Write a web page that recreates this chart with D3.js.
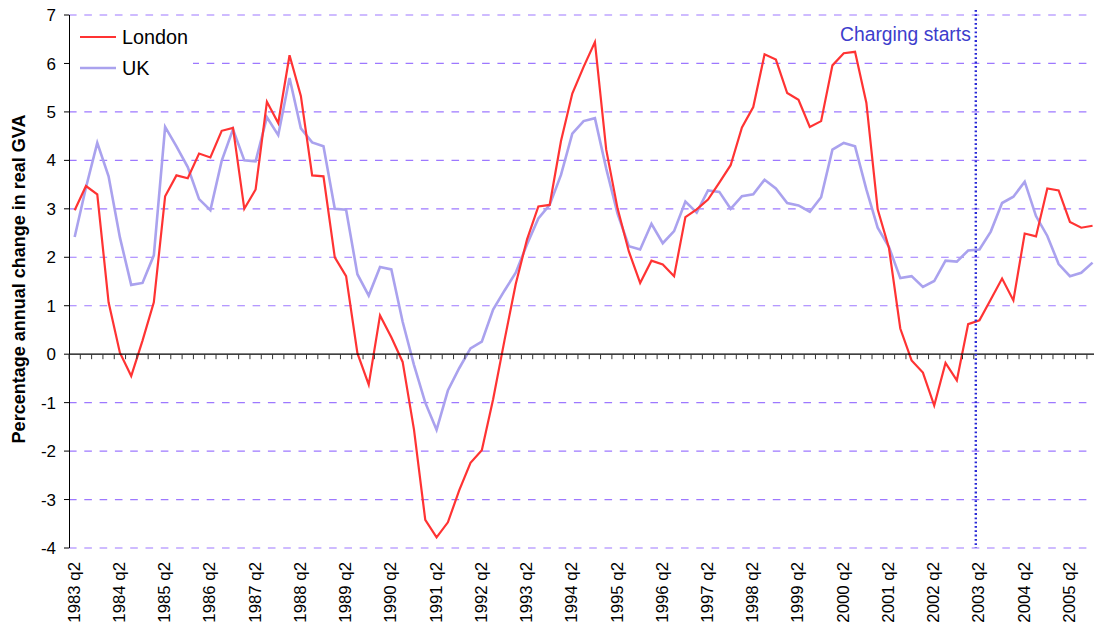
<!DOCTYPE html>
<html><head><meta charset="utf-8">
<script src="https://cdn.jsdelivr.net/npm/d3@7"></script>
<style>html,body{margin:0;padding:0;background:#fff;overflow:hidden}</style>
</head><body>
<svg id="chart" width="1094" height="628"></svg>
<script>
const categories = [
"1983 q2","1983 q3","1983 q4",
"1984 q1","1984 q2","1984 q3","1984 q4",
"1985 q1","1985 q2","1985 q3","1985 q4",
"1986 q1","1986 q2","1986 q3","1986 q4",
"1987 q1","1987 q2","1987 q3","1987 q4",
"1988 q1","1988 q2","1988 q3","1988 q4",
"1989 q1","1989 q2","1989 q3","1989 q4",
"1990 q1","1990 q2","1990 q3","1990 q4",
"1991 q1","1991 q2","1991 q3","1991 q4",
"1992 q1","1992 q2","1992 q3","1992 q4",
"1993 q1","1993 q2","1993 q3","1993 q4",
"1994 q1","1994 q2","1994 q3","1994 q4",
"1995 q1","1995 q2","1995 q3","1995 q4",
"1996 q1","1996 q2","1996 q3","1996 q4",
"1997 q1","1997 q2","1997 q3","1997 q4",
"1998 q1","1998 q2","1998 q3","1998 q4",
"1999 q1","1999 q2","1999 q3","1999 q4",
"2000 q1","2000 q2","2000 q3","2000 q4",
"2001 q1","2001 q2","2001 q3","2001 q4",
"2002 q1","2002 q2","2002 q3","2002 q4",
"2003 q1","2003 q2","2003 q3","2003 q4",
"2004 q1","2004 q2","2004 q3","2004 q4",
"2005 q1","2005 q2","2005 q3","2005 q4"
];
const london = [
2.97,3.47,3.30,1.07,0.03,-0.45,0.28,1.07,3.26,3.69,
3.63,4.14,4.06,4.61,4.67,3.00,3.40,5.21,4.77,6.17,
5.33,3.69,3.67,2.00,1.61,0.02,-0.63,0.80,0.35,-0.16,
-1.55,-3.42,-3.78,-3.47,-2.81,-2.24,-1.98,-0.93,0.28,1.45,
2.37,3.05,3.08,4.40,5.38,5.93,6.44,4.22,3.01,2.12,
1.47,1.93,1.85,1.61,2.83,2.99,3.19,3.54,3.90,4.68,
5.10,6.19,6.08,5.39,5.25,4.69,4.81,5.96,6.21,6.24,
5.19,2.99,2.19,0.53,-0.13,-0.38,-1.06,-0.18,-0.54,0.62,
0.70,1.13,1.56,1.11,2.49,2.43,3.42,3.38,2.73,2.61,
2.65
];
const uk = [
2.42,3.44,4.36,3.67,2.41,1.43,1.47,2.04,4.69,4.29,
3.86,3.20,2.97,3.99,4.64,4.00,3.98,4.89,4.52,5.70,
4.66,4.37,4.29,3.00,2.98,1.65,1.21,1.80,1.75,0.67,
-0.22,-1.00,-1.56,-0.75,-0.29,0.12,0.26,0.92,1.31,1.68,
2.27,2.80,3.08,3.70,4.55,4.81,4.87,3.83,2.90,2.23,
2.16,2.69,2.29,2.54,3.15,2.92,3.38,3.35,3.00,3.26,
3.30,3.60,3.42,3.12,3.07,2.94,3.24,4.22,4.36,4.29,
3.40,2.61,2.21,1.57,1.61,1.39,1.51,1.93,1.91,2.14,
2.16,2.53,3.12,3.25,3.56,2.85,2.44,1.86,1.61,1.68,
1.89
];
const yTicks = [-4,-3,-2,-1,0,1,2,3,4,5,6,7];
const xTickLabels = categories.filter((c, i) => i % 4 === 0);
const seriesNames = ["London", "UK"];
const seriesColors = ["#ff3333", "#aaa2ee"];
const chargingCategory = "2003 q2";
const chargingLabel = "Charging starts";
const yTitle = "Percentage annual change in real GVA";

(function () {
const FONT = "'Liberation Sans', Arial, sans-serif";
const svg = d3.select("#chart");
const pLeft = 69, pTop = 15, pBottom = 548, step = 11.31;
const W = 1094;
const x = d3.scaleBand().domain(categories).range([pLeft, pLeft + step * categories.length]).padding(0);
const y = d3.scaleLinear().domain([-4, 7]).range([pBottom, pTop]);
const cx = c => x(c) + x.bandwidth() / 2;

// gridlines
svg.append("g").selectAll("line").data(yTicks.filter(t => t !== 0)).join("line")
  .attr("x1", pLeft).attr("x2", W + 10)
  .attr("y1", d => y(d)).attr("y2", d => y(d))
  .attr("stroke", "#9d78ff").attr("stroke-width", 1.2)
  .attr("stroke-dasharray", "7.6,7.7");

// legend background
svg.append("rect").attr("x", pLeft + 1).attr("y", 18).attr("width", 123).attr("height", 70).attr("fill", "#fff");

// data lines
const line = d3.line().x((d, i) => cx(categories[i])).y(d => y(d));
svg.append("path").datum(uk).attr("d", line).attr("fill", "none")
  .attr("stroke", seriesColors[1]).attr("stroke-width", 2.6);
svg.append("path").datum(london).attr("d", line).attr("fill", "none")
  .attr("stroke", seriesColors[0]).attr("stroke-width", 2.2);

// y axis
svg.append("line").attr("x1", pLeft + 0.5).attr("x2", pLeft + 0.5).attr("y1", pTop).attr("y2", pBottom)
  .attr("stroke", "#000").attr("stroke-width", 1);
svg.append("g").selectAll("line").data(yTicks).join("line")
  .attr("x1", pLeft - 5).attr("x2", pLeft).attr("y1", d => y(d)).attr("y2", d => y(d))
  .attr("stroke", "#000").attr("stroke-width", 1);
svg.append("g").selectAll("text").data(yTicks).join("text")
  .attr("x", 56).attr("y", d => y(d)).attr("dy", "0.36em")
  .attr("text-anchor", "end").attr("font-family", FONT).attr("font-size", "17px").attr("fill", "#000")
  .text(d => d);

// x axis at zero
const y0 = y(0);
svg.append("line").attr("x1", pLeft).attr("x2", W + 10).attr("y1", y0).attr("y2", y0)
  .attr("stroke", "#000").attr("stroke-width", 1.2);
svg.append("g").selectAll("line").data(d3.range(categories.length + 1)).join("line")
  .attr("x1", i => pLeft + i * x.step()).attr("x2", i => pLeft + i * x.step())
  .attr("y1", y0).attr("y2", y0 + 5)
  .attr("stroke", "#333").attr("stroke-width", 1);
svg.append("g").selectAll("text").data(xTickLabels).join("text")
  .attr("transform", d => `translate(${cx(d) + 5},562) rotate(-90)`)
  .attr("text-anchor", "end").attr("font-family", FONT).attr("font-size", "16.8px").attr("fill", "#000")
  .text(d => d);

// y title
svg.append("text").attr("transform", "translate(25,279) rotate(-90)")
  .attr("text-anchor", "middle").attr("font-family", FONT).attr("font-size", "18px").attr("font-weight", "bold")
  .text(yTitle);

// charging line
const xc = x(chargingCategory) + 2;
svg.append("line").attr("x1", xc).attr("x2", xc).attr("y1", y(7) - 5).attr("y2", pBottom)
  .attr("stroke", "#2a2ad6").attr("stroke-width", 2.4).attr("stroke-dasharray", "1.8,2.5");
svg.append("text").attr("x", xc - 5).attr("y", 40.5).attr("text-anchor", "end")
  .attr("font-family", FONT).attr("font-size", "19.3px").attr("fill", "#3d3dcc").text(chargingLabel);

// legend
const legY = [37, 68];
seriesNames.forEach((n, k) => {
  svg.append("line").attr("x1", 80).attr("x2", 116).attr("y1", legY[k]).attr("y2", legY[k])
    .attr("stroke", seriesColors[k]).attr("stroke-width", k === 0 ? 2.2 : 2.6);
  svg.append("text").attr("x", 122).attr("y", legY[k]).attr("dy", "0.36em")
    .attr("font-family", FONT).attr("font-size", "19.8px").attr("fill", "#000").text(n);
});
})();
</script>
</body></html>
